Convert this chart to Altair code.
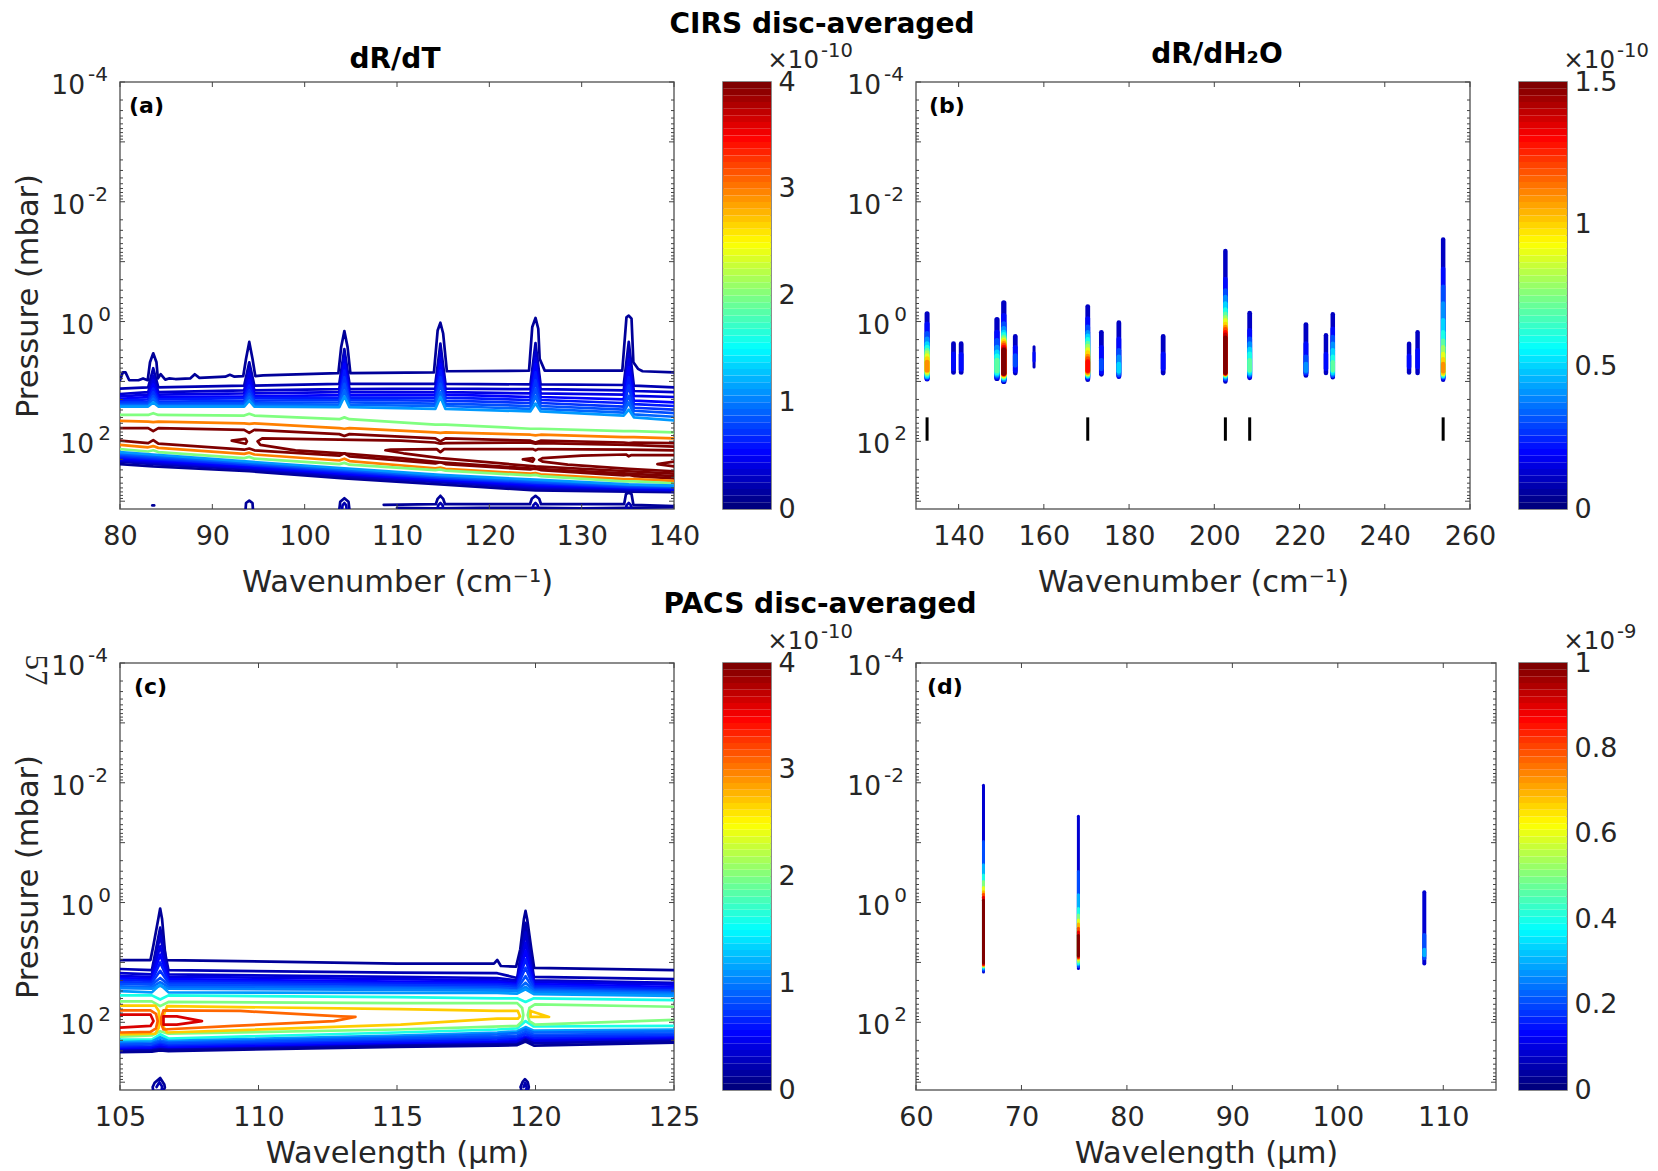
import altair as alt
import pandas as pd

# ---------- shared ----------
FONT = "DejaVu Sans"
INK = "#262626"
H = 427
JET_POS = [0, 0.125, 0.375, 0.625, 0.875, 1]
JET_COL = ["#00007f", "#0000ff", "#00ffff", "#ffff00", "#ff0000", "#7f0000"]
Y_DOM = [1e-4, 1350]
Y_LONG = [1e-4, 1e-2]
Y_LONG_EXP = ["-4", "-2"]
Y_SHORT = [1, 100]
Y_SHORT_EXP = ["0", "2"]
DECADES = [1e-4, 1e-3, 1e-2, 1e-1, 1, 10, 100, 1000]
MINORS = [m * d for d in DECADES for m in range(2, 10) if m * d < Y_DOM[1]]

# ---------- panel (a): log10(p) of contour lines ----------
X_A = [80, 83.05, 83.6, 84.15, 93.45, 94.0, 94.55, 103.75, 104.3, 104.85, 114.15, 114.7, 115.25,
       124.45, 125.0, 125.55, 134.55, 135.1, 135.65, 140]
X_A_G = [80, 83.6, 94.0, 104.3, 114.7, 125.0, 135.1, 140]

A1_X = [80, 80.3, 80.6, 81.0, 82.0, 82.5, 83.0, 83.25, 83.6, 83.95, 84.1, 84.4, 84.9, 85.3, 86, 87.6, 88.1, 88.6,
        91.4, 91.9, 92.4, 93.35, 93.65, 94.0, 94.35, 94.65, 95.5, 103.65, 103.95, 104.3, 104.65, 104.95,
        114.0, 114.4, 114.7, 115.0, 115.4, 124.3, 124.65, 125.0, 125.3, 125.45, 126, 134.4, 134.85, 135.1,
        135.4, 135.6, 136.1, 136.6, 140]
A1_Y = [0.98, 0.85, 0.85, 0.98, 0.98, 0.95, 0.98, 0.68, 0.53, 0.68, 0.95, 0.88, 0.97, 0.95, 0.96, 0.95, 0.88, 0.94,
        0.92, 0.89, 0.92, 0.91, 0.62, 0.34, 0.62, 0.91, 0.90, 0.86, 0.43, 0.16, 0.43, 0.86,
        0.85, 0.15, 0.02, 0.20, 0.83, 0.82, 0.09, -0.06, 0.12, 0.62, 0.82, 0.82, -0.07, -0.10,
        -0.05, 0.68, 0.79, 0.83, 0.85]
A_UP = [
    (0.2, [1.12, 1.10, .78, 1.10, 1.07, .68, 1.07, 1.04, .46, 1.04, 1.04, .37, 1.04, 1.05, .36, 1.05, 1.06, .34, 1.07, 1.10]),
    (0.3, [1.21, 1.18, .90, 1.18, 1.15, .79, 1.15, 1.13, .54, 1.13, 1.12, .51, 1.12, 1.13, .51, 1.13, 1.15, .54, 1.16, 1.18]),
    (0.4, [1.25, 1.22, .98, 1.22, 1.20, .87, 1.20, 1.18, .62, 1.18, 1.18, .61, 1.18, 1.20, .61, 1.20, 1.22, .63, 1.24, 1.26]),
    (0.5, [1.29, 1.26, 1.05, 1.26, 1.25, .98, 1.25, 1.23, .71, 1.23, 1.22, .71, 1.22, 1.26, .71, 1.26, 1.30, .76, 1.32, 1.35]),
    (0.6, [1.32, 1.30, 1.12, 1.30, 1.28, 1.07, 1.28, 1.27, .82, 1.27, 1.27, .82, 1.27, 1.31, .85, 1.31, 1.36, .93, 1.38, 1.41]),
    (0.7, [1.35, 1.34, 1.18, 1.34, 1.32, 1.15, 1.32, 1.31, .93, 1.31, 1.32, .93, 1.32, 1.36, .98, 1.36, 1.42, 1.07, 1.44, 1.47]),
    (0.8, [1.38, 1.37, 1.24, 1.37, 1.36, 1.21, 1.36, 1.35, 1.04, 1.35, 1.37, 1.04, 1.37, 1.41, 1.12, 1.41, 1.47, 1.24, 1.49, 1.53]),
    (0.9, [1.40, 1.40, 1.29, 1.40, 1.39, 1.26, 1.39, 1.39, 1.15, 1.39, 1.41, 1.18, 1.41, 1.46, 1.24, 1.46, 1.52, 1.35, 1.55, 1.59]),
    (1.1, [1.42, 1.42, 1.35, 1.42, 1.42, 1.32, 1.42, 1.43, 1.25, 1.43, 1.46, 1.26, 1.46, 1.50, 1.37, 1.50, 1.57, 1.47, 1.60, 1.65]),
    (2.0, [1.56, 1.56, 1.53, 1.56, 1.57, 1.54, 1.57, 1.63, 1.60, 1.63, 1.72, 1.72, 1.72, 1.79, 1.79, 1.79, 1.83, 1.83, 1.83, 1.85]),
    (3.0, [1.66, 1.67, 1.68, 1.67, 1.70, 1.71, 1.70, 1.78, 1.79, 1.78, 1.85, 1.86, 1.85, 1.89, 1.90, 1.89, 1.93, 1.93, 1.93, 1.95]),
    (4.0, [1.78, 1.78, 1.83, 1.78, 1.81, 1.86, 1.81, 1.88, 1.91, 1.88, 1.95, 2.00, 1.95, 1.99, 2.02, 1.99, 2.02, 2.03, 2.02, 2.03]),
    (4.0, [1.99, 2.03, 1.98, 2.04, 2.14, 2.12, 2.15, 2.24, 2.20, 2.25, 2.37, 2.35, 2.38, 2.47, 2.45, 2.48, 2.57, 2.56, 2.58, 2.62]),
    (3.0, [2.06, 2.10, 2.08, 2.11, 2.21, 2.19, 2.22, 2.32, 2.29, 2.33, 2.45, 2.44, 2.46, 2.54, 2.53, 2.55, 2.63, 2.63, 2.63, 2.66]),
    (2.0, [2.13, 2.17, 2.15, 2.18, 2.28, 2.26, 2.29, 2.38, 2.36, 2.39, 2.48, 2.47, 2.49, 2.57, 2.56, 2.58, 2.67, 2.67, 2.67, 2.70]),
]
A_LOW = [
    (0.1, [2.38, 2.42, 2.50, 2.62, 2.72, 2.82, 2.84, 2.85]),
    (0.2, [2.34, 2.38, 2.47, 2.59, 2.68, 2.79, 2.82, 2.83]),
    (0.3, [2.32, 2.36, 2.45, 2.57, 2.67, 2.77, 2.80, 2.82]),
    (0.4, [2.30, 2.34, 2.44, 2.55, 2.65, 2.75, 2.79, 2.81]),
    (0.5, [2.28, 2.32, 2.42, 2.54, 2.64, 2.73, 2.78, 2.80]),
    (0.6, [2.26, 2.30, 2.40, 2.52, 2.62, 2.71, 2.77, 2.78]),
    (0.7, [2.24, 2.28, 2.39, 2.50, 2.61, 2.69, 2.76, 2.77]),
    (0.8, [2.22, 2.26, 2.37, 2.48, 2.59, 2.68, 2.74, 2.76]),
    (0.9, [2.20, 2.24, 2.36, 2.47, 2.58, 2.66, 2.73, 2.75]),
    (1.1, [2.18, 2.22, 2.34, 2.45, 2.56, 2.64, 2.72, 2.74]),
]
A_FREE = [
    (4.0, [140, 135.1, 125.6, 125, 124.4, 115.3, 114.7, 114.1, 110.4, 95.4, 94.9, 95.2, 99, 104, 110.4, 114.7, 125, 135.1, 140],
     [2.09, 2.06, 2.03, 2.04, 2.02, 2.03, 2.04, 2.02, 1.99, 1.95, 2.00, 2.06, 2.15, 2.20, 2.28, 2.35, 2.46, 2.54, 2.58]),
    (4.0, [140, 135.1, 125.3, 125, 124.7, 115.1, 114.7, 114.3, 109.3, 108.74, 110.7, 114.7, 125, 135.1, 140],
     [2.15, 2.14, 2.13, 2.15, 2.13, 2.13, 2.18, 2.13, 2.14, 2.15, 2.20, 2.28, 2.42, 2.50, 2.54]),
    (4.0, [140, 135.4, 135.1, 134.8, 130, 125.8, 125.4, 125.8, 128.5, 135.1, 140],
     [2.23, 2.23, 2.25, 2.22, 2.24, 2.28, 2.31, 2.34, 2.39, 2.46, 2.50]),
    (4.0, [123.63, 124.7, 124.85, 124.7, 123.63], [2.30, 2.28, 2.30, 2.34, 2.30]),
    (4.0, [92.1, 93.6, 93.75, 93.6, 92.1], [1.99, 1.96, 2.00, 2.04, 1.99]),
    (4.0, [140, 138.2, 140], [2.34, 2.38, 2.42]),
    (0.1, [83.5, 83.7], [3.07, 3.07]),
    (0.1, [93.6, 93.65, 94.0, 94.35, 94.4], [3.14, 3.03, 2.99, 3.03, 3.14]),
    (0.1, [103.75, 103.85, 104.3, 104.75, 104.85], [3.14, 3.01, 2.95, 3.01, 3.14]),
    (0.2, [104.05, 104.1, 104.3, 104.5, 104.55], [3.14, 3.07, 3.03, 3.07, 3.14]),
    (0.1, [108.56, 114.2, 114.4, 114.7, 115.0, 115.2, 124.4, 124.6, 125, 125.4, 125.6, 134.6, 134.8, 135.1, 135.4, 135.6, 140],
     [3.06, 3.05, 2.96, 2.91, 2.96, 3.05, 3.05, 2.96, 2.91, 2.96, 3.05, 3.05, 2.88, 2.86, 2.88, 3.06, 3.08]),
    (0.1, [110, 114, 119, 125, 130, 135, 140], [3.11, 3.12, 3.11, 3.11, 3.12, 3.11, 3.10]),
    (0.2, [114.4, 114.45, 114.7, 114.95, 115], [3.14, 3.07, 3.03, 3.07, 3.14]),
    (0.2, [124.7, 124.75, 125, 125.25, 125.3], [3.14, 3.07, 3.03, 3.07, 3.14]),
    (0.2, [134.8, 134.85, 135.1, 135.35, 135.4], [3.14, 3.07, 3.03, 3.07, 3.14]),
]

# ---------- panel (c) ----------
X_C = [105, 106.15, 106.45, 106.75, 115, 118.62, 119.34, 119.64, 119.94, 125]
C1_X = [105, 106.1, 106.2, 106.38, 106.45, 106.52, 106.65, 115, 118.5, 118.62, 118.75, 119.3, 119.45, 119.58, 119.64,
        119.7, 119.85, 119.95, 125]
C1_Y = [.96, .96, .73, .28, .10, .28, .96, 1.02, 1.02, .96, 1.06, 1.07, .78, .28, .14, .28, .78, 1.09, 1.13]
C_GRID = [
    (0.2, [1.11, 1.13, .42, 1.13, 1.17, 1.18, 1.26, .34, 1.24, 1.28]),
    (0.3, [1.18, 1.20, .56, 1.20, 1.24, 1.26, 1.30, .50, 1.30, 1.34]),
    (0.4, [1.23, 1.24, .73, 1.24, 1.28, 1.30, 1.33, .67, 1.33, 1.37]),
    (0.5, [1.26, 1.28, .87, 1.28, 1.32, 1.33, 1.36, .81, 1.36, 1.41]),
    (0.6, [1.29, 1.31, 1.00, 1.31, 1.35, 1.36, 1.38, .95, 1.39, 1.44]),
    (0.7, [1.33, 1.34, 1.14, 1.34, 1.38, 1.39, 1.41, 1.09, 1.42, 1.47]),
    (0.8, [1.36, 1.37, 1.26, 1.37, 1.41, 1.42, 1.44, 1.23, 1.45, 1.49]),
    (0.9, [1.40, 1.41, 1.33, 1.41, 1.43, 1.45, 1.47, 1.34, 1.47, 1.51]),
    (1.0, [1.43, 1.44, 1.39, 1.44, 1.46, 1.47, 1.48, 1.41, 1.50, 1.53]),
    (1.1, [1.48, 1.50, 1.37, 1.50, 1.51, 1.51, 1.52, 1.45, 1.53, 1.56]),
    (1.6, [1.55, 1.55, 1.62, 1.55, 1.58, 1.60, 1.60, 1.66, 1.60, 1.63]),
    (1.6, [2.29, 2.29, 2.20, 2.27, 2.17, 2.12, 2.10, 1.98, 2.07, 2.06]),
    (1.1, [2.33, 2.32, 2.25, 2.31, 2.22, 2.17, 2.15, 2.08, 2.14, 2.12]),
    (0.9, [2.36, 2.35, 2.30, 2.34, 2.25, 2.20, 2.18, 2.12, 2.17, 2.15]),
    (0.8, [2.38, 2.37, 2.33, 2.36, 2.28, 2.24, 2.22, 2.16, 2.21, 2.19]),
    (0.7, [2.41, 2.40, 2.36, 2.39, 2.31, 2.27, 2.25, 2.20, 2.24, 2.22]),
    (0.6, [2.43, 2.42, 2.38, 2.41, 2.33, 2.30, 2.28, 2.24, 2.27, 2.25]),
    (0.5, [2.45, 2.44, 2.41, 2.43, 2.36, 2.33, 2.31, 2.26, 2.30, 2.27]),
    (0.4, [2.47, 2.46, 2.43, 2.45, 2.38, 2.35, 2.33, 2.27, 2.32, 2.29]),
    (0.2, [2.48, 2.47, 2.45, 2.46, 2.39, 2.37, 2.36, 2.29, 2.35, 2.31]),
    (0.1, [2.50, 2.49, 2.47, 2.48, 2.41, 2.39, 2.38, 2.32, 2.39, 2.34]),
]
C_FREE = [
    (2.0, [105, 106.15, 106.45, 106.75, 115, 119.34, 119.52, 119.56, 119.52, 119.34, 115, 106.75, 106.45, 106.15, 105],
     [1.65, 1.65, 1.73, 1.66, 1.68, 1.68, 1.76, 1.88, 1.98, 2.06, 2.12, 2.19, 2.15, 2.22, 2.24]),
    (2.0, [125, 119.98, 119.78, 119.72, 119.78, 119.98, 125], [1.74, 1.70, 1.76, 1.88, 1.98, 2.04, 1.96]),
    (2.7, [105, 106.27, 106.4, 106.42, 106.4, 106.27, 105], [1.72, 1.72, 1.81, 1.95, 2.09, 2.19, 2.20]),
    (2.7, [106.52, 106.7, 115.13, 118.62, 119.36, 119.44, 119.36, 118.62, 115.13, 106.7, 106.52],
     [1.95, 1.73, 1.78, 1.81, 1.81, 1.90, 1.94, 1.94, 2.04, 2.17, 2.04]),
    (2.7, [119.82, 120.49, 119.82, 119.82], [1.81, 1.91, 1.91, 1.81]),
    (3.1, [105, 106.1, 106.3, 106.36, 106.3, 106.1, 105], [1.80, 1.80, 1.86, 1.98, 2.10, 2.16, 2.17]),
    (3.1, [106.49, 106.57, 109.34, 112.96, 113.5, 112.72, 109.1, 106.57, 106.49, 106.49],
     [1.92, 1.80, 1.81, 1.90, 1.91, 1.98, 2.06, 2.12, 2.03, 1.92]),
    (3.65, [105, 106.1, 106.21, 106.1, 105], [1.87, 1.87, 1.98, 2.06, 2.09]),
    (3.65, [106.57, 107.05, 107.96, 107.05, 106.57, 106.57], [1.90, 1.90, 1.98, 2.04, 2.04, 1.90]),
    (0.1, [106.18, 106.25, 106.45, 106.6, 106.62, 106.55, 106.2, 106.18], [3.08, 3.01, 2.93, 3.04, 3.09, 3.15, 3.15, 3.08]),
    (0.2, [106.32, 106.42, 106.52, 106.5, 106.35], [3.08, 3.00, 3.07, 3.15, 3.15]),
    (0.1, [119.46, 119.53, 119.62, 119.72, 119.76, 119.72, 119.5, 119.46], [3.08, 3.00, 2.95, 3.00, 3.08, 3.15, 3.15, 3.08]),
    (0.2, [119.57, 119.63, 119.68, 119.66, 119.58], [3.08, 3.01, 3.08, 3.15, 3.15]),
]

# ---------- panel (b): strips (wavenumber, stroke, tops, bottoms); levels 0.1, 0.2, ... ----------
B_STRIPS = [
    (132.6, 5.0, [-.13, .04, .20, .29, .37, .43, .48, .52, .57, .62, .68], [.96, .95, .93, .92, .91, .89, .87, .86, .84, .82, .81]),
    (138.8, 4.8, [.37, .54], [.85, .79]),
    (140.6, 4.8, [.37, .55], [.85, .80]),
    (149.0, 5.3, [-.03, .18, .32, .43, .51, .58, .65], [.95, .93, .91, .89, .87, .85, .82]),
    (150.6, 5.3, [-.31, -.10, .04, .12, .18, .22, .26, .29, .32, .34, .37, .40, .43, .46, .48],
     [1.00, .98, .97, .96, .94, .93, .92, .91, .90, .89, .88, .87, .87, .86, .86]),
    (153.3, 4.8, [.25, .43, .57], [.86, .82, .73]),
    (157.7, 3.0, [.42, .52], [.76, .66]),
    (170.3, 4.8, [-.25, -.05, .09, .18, .24, .30, .36, .41, .47, .52, .58, .62, .67],
     [.97, .95, .93, .92, .91, .90, .89, .88, .87, .86, .85, .83, .82]),
    (173.5, 4.8, [.18, .43, .65], [.88, .85, .79]),
    (177.6, 4.8, [.02, .29, .48, .59, .71], [.92, .91, .89, .86, .83]),
    (188.0, 4.8, [.25, .54], [.86, .79]),
    (202.6, 4.5, [-1.18, -.71, -.52, -.41, -.30, -.20, -.13, -.07, -.02, .04, .09, .13, .18, .22, .27],
     [1.00, .97, .96, .94, .92, .91, .90, .89, .88, .88, .87, .87, .86, .86, .85]),
    (208.3, 4.8, [-.14, .15, .29, .37, .46, .54, .65], [.94, .92, .90, .88, .86, .83, .81]),
    (221.5, 4.8, [.05, .37, .59, .71], [.90, .87, .85, .82]),
    (226.2, 4.5, [.23, .54], [.86, .79]),
    (227.8, 4.5, [-.12, .12, .26, .37, .48, .59, .68], [.93, .91, .90, .88, .86, .83, .81]),
    (245.7, 4.5, [.37, .57], [.85, .76]),
    (247.7, 4.5, [.18, .48], [.86, .76]),
    (253.7, 4.5, [-1.37, -.88, -.58, -.30, -.02, .18, .32, .43, .54, .63, .71],
     [.97, .95, .93, .92, .91, .90, .89, .88, .87, .86, .83]),
]
B_LEVELS = [0.1, 0.2, 0.3, 0.4, 0.5, 0.6, 0.7, 0.8, 0.9, 1.0, 1.1, 1.2, 1.3, 1.4, 1.5]
B_MARK_X = [132.6, 170.3, 202.6, 208.3, 253.7]
B_MARK_TOP = 1.60
B_MARK_BOT = 1.99

# ---------- panel (d) ----------
D_STRIPS = [
    (66.4, 3.0, [-1.96, -1.02, -.63, -.46, -.35, -.25, -.18, -.14, -.09, -.04], [1.16, 1.13, 1.10, 1.08, 1.07, 1.06, 1.05, 1.04, 1.03, 1.01]),
    (75.4, 3.0, [-1.44, -.52, -.13, .10, .21, .29, .36, .43, .49, .55], [1.10, 1.07, 1.04, 1.02, .99, .96, .94, .92, .91, .89]),
    (108.2, 4.0, [-.17, .54, .79], [1.02, .93, .88]),
]
D_LEVELS = [0.08, 0.2, 0.3, 0.4, 0.5, 0.6, 0.7, 0.8, 0.9, 1.0]

BANDS = list(range(64))


def jet(vmax):
    return alt.Scale(domain=[vmax * p for p in JET_POS], range=JET_COL, interpolate="rgb")


def y_scale():
    return alt.Scale(type="log", domain=Y_DOM, nice=False, reverse=True)


def x_scale(dom):
    return alt.Scale(domain=dom, nice=False, zero=False)


def x_axis(xticks, xtitle, title_pad):
    return alt.Axis(values=xticks, title=xtitle, ticks=False, domain=False, grid=False, labelPadding=14,
                    titlePadding=title_pad, labelOverlap=False, labelFlush=False, format="d")


def y_axis(ytitle):
    return alt.Axis(values=[], labels=False, title="Pressure (mbar)" if ytitle else "", ticks=False, domain=False,
                    grid=False, titlePadding=77)


def line_df(groups):
    rows, gid = [], 0
    for level, xs, ys in groups:
        gid += 1
        for i, (x, y) in enumerate(zip(xs, ys)):
            rows.append({"x": x, "p": 10 ** y, "id": gid, "level": level, "ord": i})
    return pd.DataFrame(rows)


def strip_df(strips, levels):
    rows, gid = [], 0
    for li in range(len(levels)):
        for x, w, tops, bots in strips:
            if li < len(tops):
                gid += 1
                rows.append({"x": x, "w": w, "p1": 10 ** tops[li], "p2": 10 ** bots[li], "level": levels[li], "id": gid})
    return pd.DataFrame(rows)


def y_labels(yax):
    Y = alt.Y("v:Q", scale=y_scale(), axis=yax)
    def lab(vals, texts, x, size, dy, align="right"):
        return alt.Chart(pd.DataFrame({"v": vals, "t": texts})).mark_text(
            font=FONT, fontSize=size, color=INK, align=align, baseline="middle", dy=dy
        ).encode(y=Y, x=alt.value(x), text="t:N")
    return [
        lab(Y_LONG, ["10"] * len(Y_LONG), -35, 26.5, 4),
        lab(Y_LONG, Y_LONG_EXP, -12, 20, -7),
        lab(Y_SHORT, ["10"] * len(Y_SHORT), -26, 26.5, 4),
        lab(Y_SHORT, Y_SHORT_EXP, -9, 20, -7),
    ]


def frame_layers(w, xdom, xax, yax, xticks):
    xt = pd.DataFrame({"v": xticks})
    yt = pd.DataFrame({"v": DECADES})
    ym = pd.DataFrame({"v": MINORS})
    rule = dict(color="#444444", strokeWidth=1)
    X = alt.X("v:Q", scale=x_scale(xdom), axis=xax)
    Y = alt.Y("v:Q", scale=y_scale(), axis=yax)
    return [
        alt.Chart(yt).mark_rule(**rule).encode(y=Y, x=alt.value(0), x2=alt.value(5)),
        alt.Chart(yt).mark_rule(**rule).encode(y=Y, x=alt.value(w - 5), x2=alt.value(w)),
        alt.Chart(ym).mark_rule(**rule).encode(y=Y, x=alt.value(0), x2=alt.value(3)),
        alt.Chart(ym).mark_rule(**rule).encode(y=Y, x=alt.value(w - 3), x2=alt.value(w)),
        alt.Chart(xt).mark_rule(**rule).encode(x=X, y=alt.value(H), y2=alt.value(H - 5)),
        alt.Chart(xt).mark_rule(**rule).encode(x=X, y=alt.value(0), y2=alt.value(5)),
    ] + y_labels(yax)


def text_layer(txt, x, y, size=24, weight="bold", **kw):
    return alt.Chart(pd.DataFrame({"t": [txt]})).mark_text(
        font=kw.pop("font", FONT), fontSize=size, fontWeight=weight, color=kw.pop("color", "#000000"), **kw
    ).encode(x=alt.value(x), y=alt.value(y), text="t:N")


def contours(df, xdom, vmax, xax, yax, sw=2.7):
    return alt.Chart(df).mark_line(clip=True, strokeWidth=sw, strokeJoin="round", strokeCap="round").encode(
        x=alt.X("x:Q", scale=x_scale(xdom), axis=xax),
        y=alt.Y("p:Q", scale=y_scale(), axis=yax),
        color=alt.Color("level:Q", scale=jet(vmax), legend=None),
        detail="id:N",
        order=alt.Order("ord:Q"),
    )


def strips(df, xdom, vmax, xax, yax):
    return alt.Chart(df).mark_rule(clip=True, strokeCap="round").encode(
        x=alt.X("x:Q", scale=x_scale(xdom), axis=xax),
        y=alt.Y("p1:Q", scale=y_scale(), axis=yax),
        y2="p2:Q",
        size=alt.Size("w:Q", scale=None, legend=None),
        color=alt.Color("level:Q", scale=jet(vmax), legend=None),
        detail="id:N",
    )


def colorbar(vmax, ticks, exponent, fmt="~g"):
    n = len(BANDS)
    df = pd.DataFrame({"y1": [b / n * vmax for b in BANDS], "y2": [(b + 1) / n * vmax for b in BANDS],
                       "level": [b / (n - 1) * vmax for b in BANDS]})
    bars = alt.Chart(df).mark_rect().encode(
        y=alt.Y("y1:Q", scale=alt.Scale(domain=[0, vmax], nice=False, zero=False),
                axis=alt.Axis(orient="right", values=ticks, title=None, ticks=False, domain=False, grid=False,
                              labelPadding=7, labelOverlap=False, labelFlush=False, format=fmt)),
        y2="y2:Q",
        x=alt.value(0), x2=alt.value(48),
        color=alt.Color("level:Q", scale=jet(vmax), legend=None),
    )
    return alt.layer(
        bars,
        text_layer("×10", 96, -21, size=24.5, weight="normal", color=INK, align="right", baseline="middle"),
        text_layer(exponent, 98, -31, size=19.5, weight="normal", color=INK, align="left", baseline="middle"),
    ).properties(width=48, height=H)


def spacer(w):
    return alt.Chart(pd.DataFrame({"a": [0]})).mark_point(opacity=0).encode(
        x=alt.value(0), y=alt.value(0)).properties(width=w, height=H, view=alt.ViewBackground(stroke=None))


# ---------- panels ----------
a_groups = [(0.1, A1_X, A1_Y)]
a_groups += [(lv, X_A, ys) for lv, ys in A_UP]
a_groups += [(lv, X_A_G, ys) for lv, ys in A_LOW]
a_groups += A_FREE
A_DOM = [80, 140]
A_TICKS = [80, 90, 100, 110, 120, 130, 140]
xa, ya = x_axis(A_TICKS, "Wavenumber (cm⁻¹)", 18), y_axis(True)
a = alt.layer(
    contours(line_df(a_groups), A_DOM, 4, xa, ya),
    *frame_layers(554, A_DOM, xa, ya, A_TICKS),
    text_layer("CIRS disc-averaged", 702, -57, size=28, align="center", baseline="middle"),
    text_layer("dR/dT", 275, -22, size=28, align="center", baseline="middle"),
    text_layer("(a)", 9, 24, size=22, align="left", baseline="middle"),
).properties(width=554, height=H)

B_DOM = [130, 260]
B_TICKS = [140, 160, 180, 200, 220, 240, 260]
xb, yb = x_axis(B_TICKS, "Wavenumber (cm⁻¹)", 18), y_axis(False)
b_marks = pd.DataFrame({"x": B_MARK_X, "p1": [10 ** B_MARK_TOP] * len(B_MARK_X), "p2": [10 ** B_MARK_BOT] * len(B_MARK_X)})
b = alt.layer(
    strips(strip_df(B_STRIPS, B_LEVELS), B_DOM, 1.5, xb, yb),
    alt.Chart(b_marks).mark_rule(color="#000000", strokeWidth=3).encode(
        x=alt.X("x:Q", scale=x_scale(B_DOM), axis=xb), y=alt.Y("p1:Q", scale=y_scale(), axis=yb), y2="p2:Q"),
    *frame_layers(554, B_DOM, xb, yb, B_TICKS),
    text_layer("dR/dH₂O", 301, -27, size=28, align="center", baseline="middle"),
    text_layer("(b)", 13, 24, size=22, align="left", baseline="middle"),
).properties(width=554, height=H)

c_groups = [(0.1, C1_X, C1_Y)] + [(lv, X_C, ys) for lv, ys in C_GRID] + C_FREE
C_DOM = [105, 125]
C_TICKS = [105, 110, 115, 120, 125]
xc, yc = x_axis(C_TICKS, "Wavelength (μm)", 8), y_axis(True)
c = alt.layer(
    contours(line_df(c_groups), C_DOM, 4, xc, yc),
    *frame_layers(554, C_DOM, xc, yc, C_TICKS),
    text_layer("PACS disc-averaged", 700, -58, size=28, align="center", baseline="middle"),
    text_layer("(c)", 14, 24, size=22, align="left", baseline="middle"),
    text_layer("57", -85, 7, size=31, weight="normal", font="Liberation Serif", color=INK, angle=90,
               align="center", baseline="middle"),
).properties(width=554, height=H)

D_DOM = [60, 115]
D_TICKS = [60, 70, 80, 90, 100, 110]
xd, yd = x_axis(D_TICKS, "Wavelength (μm)", 8), y_axis(False)
d = alt.layer(
    strips(strip_df(D_STRIPS, D_LEVELS), D_DOM, 1, xd, yd),
    *frame_layers(580, D_DOM, xd, yd, D_TICKS),
    text_layer("(d)", 11, 24, size=22, align="left", baseline="middle"),
).properties(width=580, height=H)

chart = alt.concat(
    a, spacer(49), colorbar(4, [0, 1, 2, 3, 4], "-10"), spacer(145), b, spacer(23),
    colorbar(1.5, [0, 0.5, 1, 1.5], "-10"),
    c, spacer(49), colorbar(4, [0, 1, 2, 3, 4], "-10"), spacer(145), d, spacer(23),
    colorbar(1, [0, 0.2, 0.4, 0.6, 0.8, 1], "-9"),
    columns=7, spacing=alt.RowColnumber(column=0, row=154), align="none", bounds="flush",
    padding={"left": 4, "top": 2, "right": 0, "bottom": -1},
).resolve_scale(color="independent").configure_view(stroke="#666666", strokeWidth=1.5).configure_axis(
    labelFont=FONT, titleFont=FONT, labelFontSize=27, titleFontSize=30.5, labelColor=INK, titleColor=INK,
    titleFontWeight="normal", labelFontWeight="normal",
)

chart.save("out.html", embed_options={"renderer": "svg", "actions": False})
